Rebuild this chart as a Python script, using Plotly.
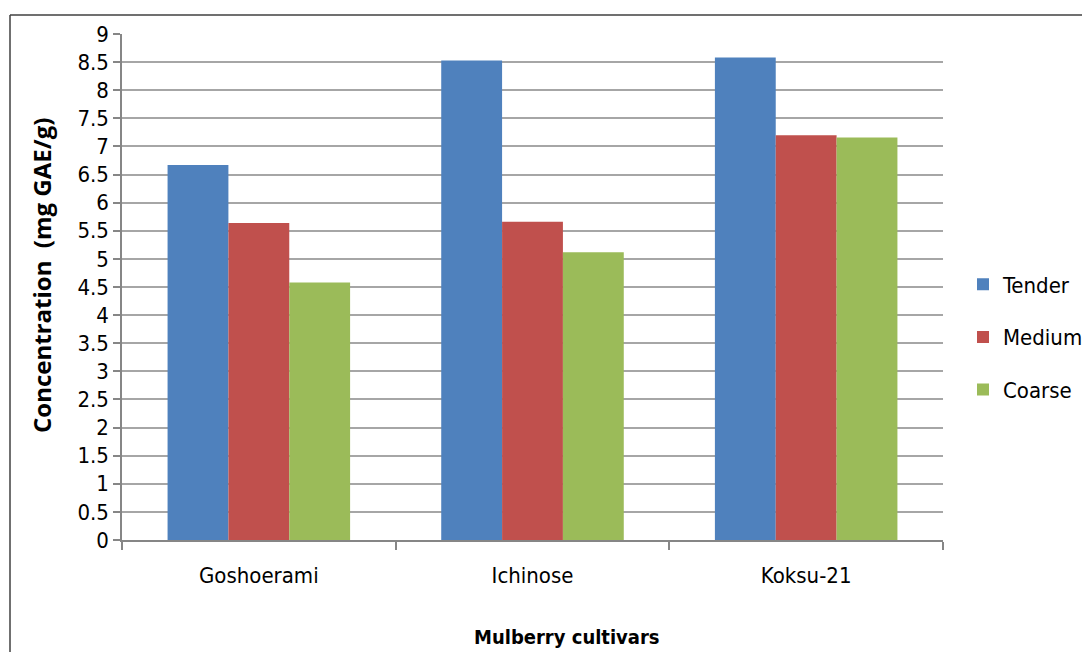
import plotly.graph_objects as go

# Total phenolic content of mulberry leaves by cultivar and leaf maturity
cultivars = ["Goshoerami", "Ichinose", "Koksu-21"]
tender = [6.67, 8.53, 8.58]
medium = [5.64, 5.66, 7.20]
coarse = [4.58, 5.12, 7.16]

series = [
    ("Tender", tender, "#4F81BD"),
    ("Medium", medium, "#C0504D"),
    ("Coarse", coarse, "#9BBB59"),
]

tick_vals = [i * 0.5 for i in range(19)]
tick_text = [("%g" % v) for v in tick_vals]

narrow = "Liberation Sans Narrow, DejaVu Sans Condensed, Arial Narrow, sans-serif"

fig = go.Figure()
for i, (name, vals, color) in enumerate(series):
    fig.add_trace(go.Bar(
        name=name, x=cultivars, y=vals,
        marker=dict(color=color, line=dict(width=0)),
        legendgroup="g%d" % i,
    ))

W, H = 1082, 652
L, R, T, B = 122, 943, 34, 540


def px(x):
    return (x - L) / (R - L)


def py(y):
    return (B - y) / (B - T)


fig.update_layout(
    width=W, height=H,
    margin=dict(l=L, r=W - R, t=T, b=H - B, autoexpand=False),
    paper_bgcolor="white", plot_bgcolor="white",
    barmode="group", bargap=0.333, bargroupgap=0,
    font=dict(family=narrow, size=22, color="#000000"),
    showlegend=True,
    legend=dict(
        x=px(963), xanchor="left",
        y=py(337), yanchor="middle",
        font=dict(family=narrow, size=22, color="#000000"),
        tracegroupgap=21, itemwidth=30,
        bgcolor="rgba(0,0,0,0)",
    ),
    xaxis=dict(
        type="category",
        showline=True, linecolor="#868686", linewidth=1.5,
        ticks="outside", tickson="boundaries", ticklen=8,
        tickcolor="#868686", tickwidth=1.5,
        showgrid=False,
        tickfont=dict(family=narrow, size=22, color="#000000"),
        ticklabelstandoff=15,
    ),
    yaxis=dict(
        range=[0, 9],
        tickvals=tick_vals, ticktext=tick_text,
        showline=True, linecolor="#868686", linewidth=1.5,
        ticks="outside", ticklen=7, tickcolor="#868686", tickwidth=1.5,
        showgrid=True, gridcolor="#A6A6A6", gridwidth=1.5,
        zeroline=False,
        tickfont=dict(family=narrow, size=22, color="#000000"),
    ),
)

# Axis titles
fig.add_annotation(
    text="Concentration  (mg GAE/g)",
    xref="paper", yref="paper",
    x=px(41), y=py(276), xanchor="center", yanchor="middle",
    showarrow=False, textangle=-90,
    font=dict(family="Open Sans, sans-serif", size=24, color="#000000", weight="bold"),
)
fig.add_annotation(
    text="Mulberry cultivars",
    xref="paper", yref="paper",
    x=px(567), y=py(637), xanchor="center", yanchor="middle",
    showarrow=False,
    font=dict(family=narrow, size=20, color="#000000", weight="bold"),
)

# Chart frame (top and left edges)
fig.add_shape(type="line", xref="paper", yref="paper",
              x0=px(10), x1=px(W + 5), y0=py(15), y1=py(15),
              line=dict(color="#404040", width=1.5))
fig.add_shape(type="line", xref="paper", yref="paper",
              x0=px(10), x1=px(10), y0=py(15), y1=py(H + 5),
              line=dict(color="#404040", width=1.5))

fig.write_html("out.html")
